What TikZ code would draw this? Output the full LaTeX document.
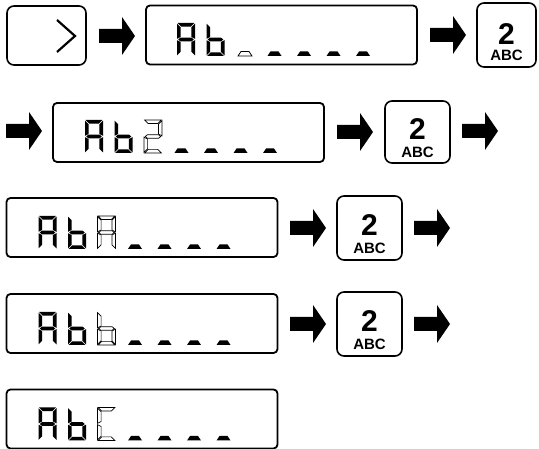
\documentclass[tikz,border=0pt]{standalone}
\usepackage{fontspec}
\newfontfamily\keyfont{Liberation Sans}

% LCD segments a..g in a cell of 18 x 33 (y downwards), u = underscore
\newcommand{\sega}{(0.7,0) -- (17.3,0) -- (13.7,3.6) -- (4.3,3.6) -- cycle}
\newcommand{\segb}{(18,0.7) -- (14.4,4.3) -- (14.4,14.0) -- (18,15.8) -- cycle}
\newcommand{\segc}{(18,17.2) -- (14.4,19.0) -- (14.4,28.7) -- (18,32.3) -- cycle}
\newcommand{\segd}{(0.7,33) -- (17.3,33) -- (13.7,29.4) -- (4.3,29.4) -- cycle}
\newcommand{\sege}{(0,17.2) -- (3.6,19.0) -- (3.6,28.7) -- (0,32.3) -- cycle}
\newcommand{\segf}{(0,0.7) -- (3.6,4.3) -- (3.6,14.0) -- (0,15.8) -- cycle}
\newcommand{\segg}{(1.2,16.5) -- (3.4,14.7) -- (14.6,14.7) -- (16.8,16.5) -- (14.6,18.3) -- (3.4,18.3) -- cycle}
\newcommand{\segu}{(1,33) -- (15,33) -- (12,28.5) -- (4,28.5) -- cycle}
% \lcdchar{x}{y}{segments}{style}
\newcommand{\lcdchar}[4]{%
  \begin{scope}[shift={(#1,#2)}]
    \foreach \s in {#3} {\path[#4] \csname seg\s\endcsname;}
  \end{scope}}
% block arrow: left end x, centre y
\newcommand{\blockarrow}[2]{%
  \fill (#1,#2-7) -- (#1+23,#2-7) -- (#1+23,#2-19) -- (#1+36,#2) -- (#1+23,#2+19) -- (#1+23,#2+7) -- (#1,#2+7) -- cycle;}

\begin{document}
\begin{tikzpicture}[x=1pt,y=-1pt,
    dispbox/.style={draw,line width=1.8pt,rounded corners=4pt,minimum width=271pt,minimum height=59pt,inner sep=0},
    keybox/.style={draw,line width=1.6pt,rounded corners=7pt,minimum width=65pt,minimum height=64pt,inner sep=0},
    keynum/.style={font=\keyfont\bfseries\fontsize{30}{30}\selectfont,inner sep=0},
    keyabc/.style={font=\keyfont\bfseries\fontsize{15}{15}\selectfont,inner sep=0},
    lcdon/.style={fill=black},
    lcdcur/.style={draw=black,line width=0.7pt}]
    \useasboundingbox (0,0) rectangle (539,449);

    % row 1
    \node[keybox,minimum width=79pt,minimum height=59pt] (kright) at (46.5,35.5) {};
    \draw[line width=2.2pt] (57,20) -- (75,36) -- (57,52);
    \blockarrow{99}{36}
    \node[dispbox] (disp1) at (281.5,35) {};
    \lcdchar{177}{23}{a,b,c,e,f,g}{lcdon}
    \lcdchar{206.5}{23}{c,d,e,f,g}{lcdon}
    \lcdchar{237}{23}{u}{lcdcur}
    \lcdchar{266.5}{23}{u}{lcdon}
    \lcdchar{296}{23}{u}{lcdon}
    \lcdchar{325.5}{23}{u}{lcdon}
    \lcdchar{355}{23}{u}{lcdon}
    \blockarrow{430}{35}
    \node[keybox,minimum width=59pt] (key1) at (506.5,35) {};
    \node[keynum] (num1) at (506.5,34) {2};
    \node[keyabc] (abc1) at (506.5,55) {ABC};

    % row 2
    \blockarrow{6}{131}
    \node[dispbox] (disp2) at (188.5,132.5) {};
    \lcdchar{85}{120}{a,b,c,e,f,g}{lcdon}
    \lcdchar{114.5}{120}{c,d,e,f,g}{lcdon}
    \lcdchar{144}{120}{a,b,d,e,g}{lcdcur}
    \lcdchar{173.5}{120}{u}{lcdon}
    \lcdchar{203}{120}{u}{lcdon}
    \lcdchar{232.5}{120}{u}{lcdon}
    \lcdchar{262}{120}{u}{lcdon}
    \blockarrow{337}{132}
    \node[keybox,minimum height=62pt] (key2) at (417.5,132) {};
    \node[keynum] (num2) at (417.5,129) {2};
    \node[keyabc] (abc2) at (417.5,152.5) {ABC};
    \blockarrow{462}{131}

    % row 3
    \node[dispbox] (disp3) at (142,227.5) {};
    \lcdchar{38.5}{216}{a,b,c,e,f,g}{lcdon}
    \lcdchar{68}{216}{c,d,e,f,g}{lcdon}
    \lcdchar{97.5}{216}{a,b,c,e,f,g}{lcdcur}
    \lcdchar{127}{216}{u}{lcdon}
    \lcdchar{156.5}{216}{u}{lcdon}
    \lcdchar{186}{216}{u}{lcdon}
    \lcdchar{215.5}{216}{u}{lcdon}
    \blockarrow{290}{228}
    \node[keybox] (key3) at (369.5,228) {};
    \node[keynum] (num3) at (369.5,225) {2};
    \node[keyabc] (abc3) at (369.5,248.5) {ABC};
    \blockarrow{414}{228}

    % row 4
    \node[dispbox] (disp4) at (142,323.5) {};
    \lcdchar{38.5}{312}{a,b,c,e,f,g}{lcdon}
    \lcdchar{68}{312}{c,d,e,f,g}{lcdon}
    \lcdchar{97.5}{312}{c,d,e,f,g}{lcdcur}
    \lcdchar{127}{312}{u}{lcdon}
    \lcdchar{156.5}{312}{u}{lcdon}
    \lcdchar{186}{312}{u}{lcdon}
    \lcdchar{215.5}{312}{u}{lcdon}
    \blockarrow{290}{324}
    \node[keybox] (key4) at (369.5,324) {};
    \node[keynum] (num4) at (369.5,321) {2};
    \node[keyabc] (abc4) at (369.5,344.5) {ABC};
    \blockarrow{414}{324}

    % row 5
    \node[dispbox] (disp5) at (142,419) {};
    \lcdchar{38.5}{407.5}{a,b,c,e,f,g}{lcdon}
    \lcdchar{68}{407.5}{c,d,e,f,g}{lcdon}
    \lcdchar{97.5}{407.5}{a,d,e,f}{lcdcur}
    \lcdchar{127}{407.5}{u}{lcdon}
    \lcdchar{156.5}{407.5}{u}{lcdon}
    \lcdchar{186}{407.5}{u}{lcdon}
    \lcdchar{215.5}{407.5}{u}{lcdon}
\end{tikzpicture}
\end{document}
